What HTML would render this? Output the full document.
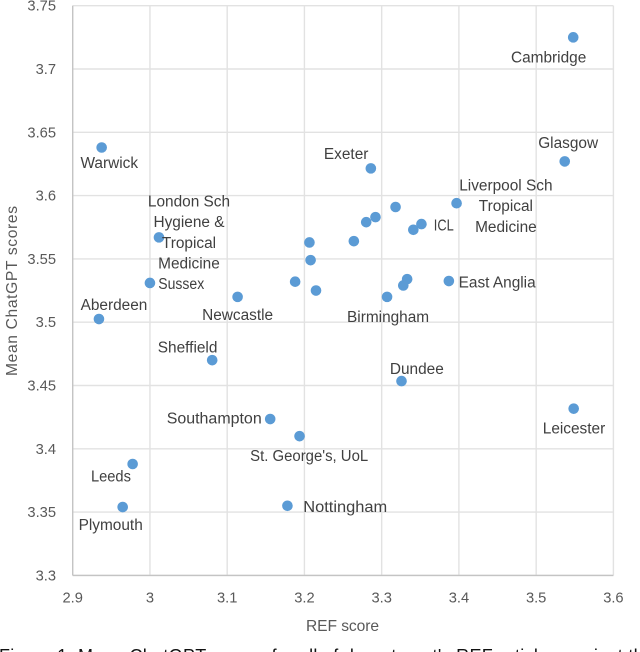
<!DOCTYPE html>
<html lang="en">
<head>
<meta charset="utf-8">
<title>Mean ChatGPT scores against REF score</title>
<style>
html,body{margin:0;padding:0;background:#fff;width:640px;height:652px;overflow:hidden}
svg{display:block;font-family:"Liberation Sans",sans-serif}
</style>
</head>
<body>
<svg id="chart" xmlns="http://www.w3.org/2000/svg" width="640" height="652" viewBox="0 0 640 652">
  <g id="grid"></g>
  <g id="axes"></g>
  <g id="ticks"></g>
  <g id="points"></g>
  <g id="labels"></g>
  <text x="342.5" y="631" text-anchor="middle" font-size="15.6" fill="#595959" textLength="73" lengthAdjust="spacing">REF score</text>
  <text transform="translate(17 291) rotate(-90)" text-anchor="middle" font-size="15.6" fill="#595959" textLength="170" lengthAdjust="spacing">Mean ChatGPT scores</text>
  <text x="-1" y="662" font-size="18" fill="#111" textLength="655" lengthAdjust="spacing">Figure 1: Mean ChatGPT scores for all of department's REF articles against the</text>
</svg>
<script>
const xTicks = ["2.9", "3", "3.1", "3.2", "3.3", "3.4", "3.5", "3.6"];
const yTicks = ["3.3", "3.35", "3.4", "3.45", "3.5", "3.55", "3.6", "3.65", "3.7", "3.75"];
const names = ["Cambridge", "Glasgow", "Warwick", "Exeter", "Liverpool Sch|Tropical|Medicine", "ICL", "", "", "", "", "", "", "", "", "", "East Anglia", "", "", "Birmingham", "Newcastle", "Sussex", "London Sch|Hygiene &|Tropical|Medicine", "Aberdeen", "Sheffield", "Dundee", "Leicester", "Southampton", "St. George's, UoL", "Leeds", "Nottingham", "Plymouth"];
const refScores = [3.548, 3.537, 2.9375, 3.286, 3.397, 3.3515, 3.341, 3.318, 3.292, 3.280, 3.264, 3.2065, 3.208, 3.188, 3.215, 3.387, 3.333, 3.328, 3.307, 3.1135, 3.0, 3.0117, 2.934, 3.0806, 3.3257, 3.5486, 3.1557, 3.1937, 2.9776, 3.178, 2.9647];
const chatgptScores = [3.725, 3.627, 3.638, 3.6215, 3.594, 3.5775, 3.573, 3.591, 3.583, 3.579, 3.564, 3.563, 3.549, 3.532, 3.525, 3.5325, 3.534, 3.529, 3.52, 3.52, 3.531, 3.567, 3.5025, 3.47, 3.4535, 3.4317, 3.4235, 3.41, 3.388, 3.355, 3.354];

/* label placement relative to each point (layout only) */
const labelPlacement = {
  "Cambridge": [-24.6, 25], "Glasgow": [3.4, -13.3], "Warwick": [7.6, 20.7], "Exeter": [-24.7, -9.3],
  "Liverpool Sch|Tropical|Medicine": [49.3, -12.7], "ICL": [22.3, 6.3], "East Anglia": [48.3, 6.3],
  "Birmingham": [1, 25], "Newcastle": [0, 23.3], "Sussex": [31.3, 6],
  "London Sch|Hygiene &|Tropical|Medicine": [30, -31], "Aberdeen": [15, -9], "Sheffield": [-24.6, -7.7],
  "Dundee": [15.3, -7.3], "Leicester": [0.3, 24.6], "Southampton": [-56, 4.3], "St. George's, UoL": [9.6, 25],
  "Leeds": [-21.7, 17.3], "Nottingham": [57.8, 6.3], "Plymouth": [-12, 23]
};
/* rendered widths for the lines whose font metrics differ most (layout only) */
const lineWidths = { "Nottingham": 84, "Sussex": 46, "St. George's, UoL": 118, "ICL": 20, "Leeds": 40, "Southampton": 95 };

const NS = "http://www.w3.org/2000/svg";
const plot = { left: 72.7, right: 613.4, top: 5.7, bottom: 575.4 };
const xMin = 2.9, xMax = 3.6, yMin = 3.3, yMax = 3.75;
function xScale(v) { return plot.left + (v - xMin) / (xMax - xMin) * (plot.right - plot.left); }
function yScale(v) { return plot.bottom - (v - yMin) / (yMax - yMin) * (plot.bottom - plot.top); }
function make(tag, attrs, parent) {
  const el = document.createElementNS(NS, tag);
  for (const k in attrs) el.setAttribute(k, attrs[k]);
  parent.appendChild(el);
  return el;
}
const grid = document.getElementById("grid");
const axes = document.getElementById("axes");
const ticks = document.getElementById("ticks");
const points = document.getElementById("points");
const labels = document.getElementById("labels");

xTicks.forEach(function (t) {
  const x = xScale(parseFloat(t));
  const line = make("line", { x1: x, x2: x, y1: plot.top, y2: plot.bottom, stroke: "#e2e2e2", "stroke-width": 1.4 }, grid);
  
  
  const label = make("text", { x: x, y: 602.7, "text-anchor": "middle", "font-size": 14.7, fill: "#595959" }, ticks);
  label.textContent = t;
  
  
});
yTicks.forEach(function (t) {
  const y = yScale(parseFloat(t));
  const line = make("line", { x1: plot.left, x2: plot.right, y1: y, y2: y, stroke: "#e2e2e2", "stroke-width": 1.4 }, grid);
  
  
  const label = make("text", { x: 56, y: y + 5, "text-anchor": "end", "font-size": 14.7, fill: "#595959" }, ticks);
  label.textContent = t;
  
  
});

const xAxisLine = make("line", { x1: plot.left, x2: plot.right, y1: plot.bottom, y2: plot.bottom, stroke: "#c4c4c4", "stroke-width": 1.4 }, axes);


const yAxisLine = make("line", { x1: plot.left, x2: plot.left, y1: plot.top, y2: plot.bottom, stroke: "#c4c4c4", "stroke-width": 1.4 }, axes);



refScores.forEach(function (ref, i) {
  const cx = xScale(ref);
  const cy = yScale(chatgptScores[i]);
  const dot = make("circle", { cx: cx, cy: cy, r: 5.3, fill: "#5b9bd5" }, points);
  
  
  const name = names[i];
  if (!name) return;
  const place = labelPlacement[name] || [0, 20];
  name.split("|").forEach(function (line, n) {
    const text = make("text", { x: cx + place[0], y: cy + place[1] + n * 20.7, "text-anchor": "middle", "font-size": 15.4, fill: "#404040" }, labels);
    text.textContent = line;
    if (lineWidths[line]) {
      text.setAttribute("textLength", lineWidths[line]);
      text.setAttribute("lengthAdjust", "spacingAndGlyphs");
    }
    
    
  });
});
</script>
</body>
</html>
